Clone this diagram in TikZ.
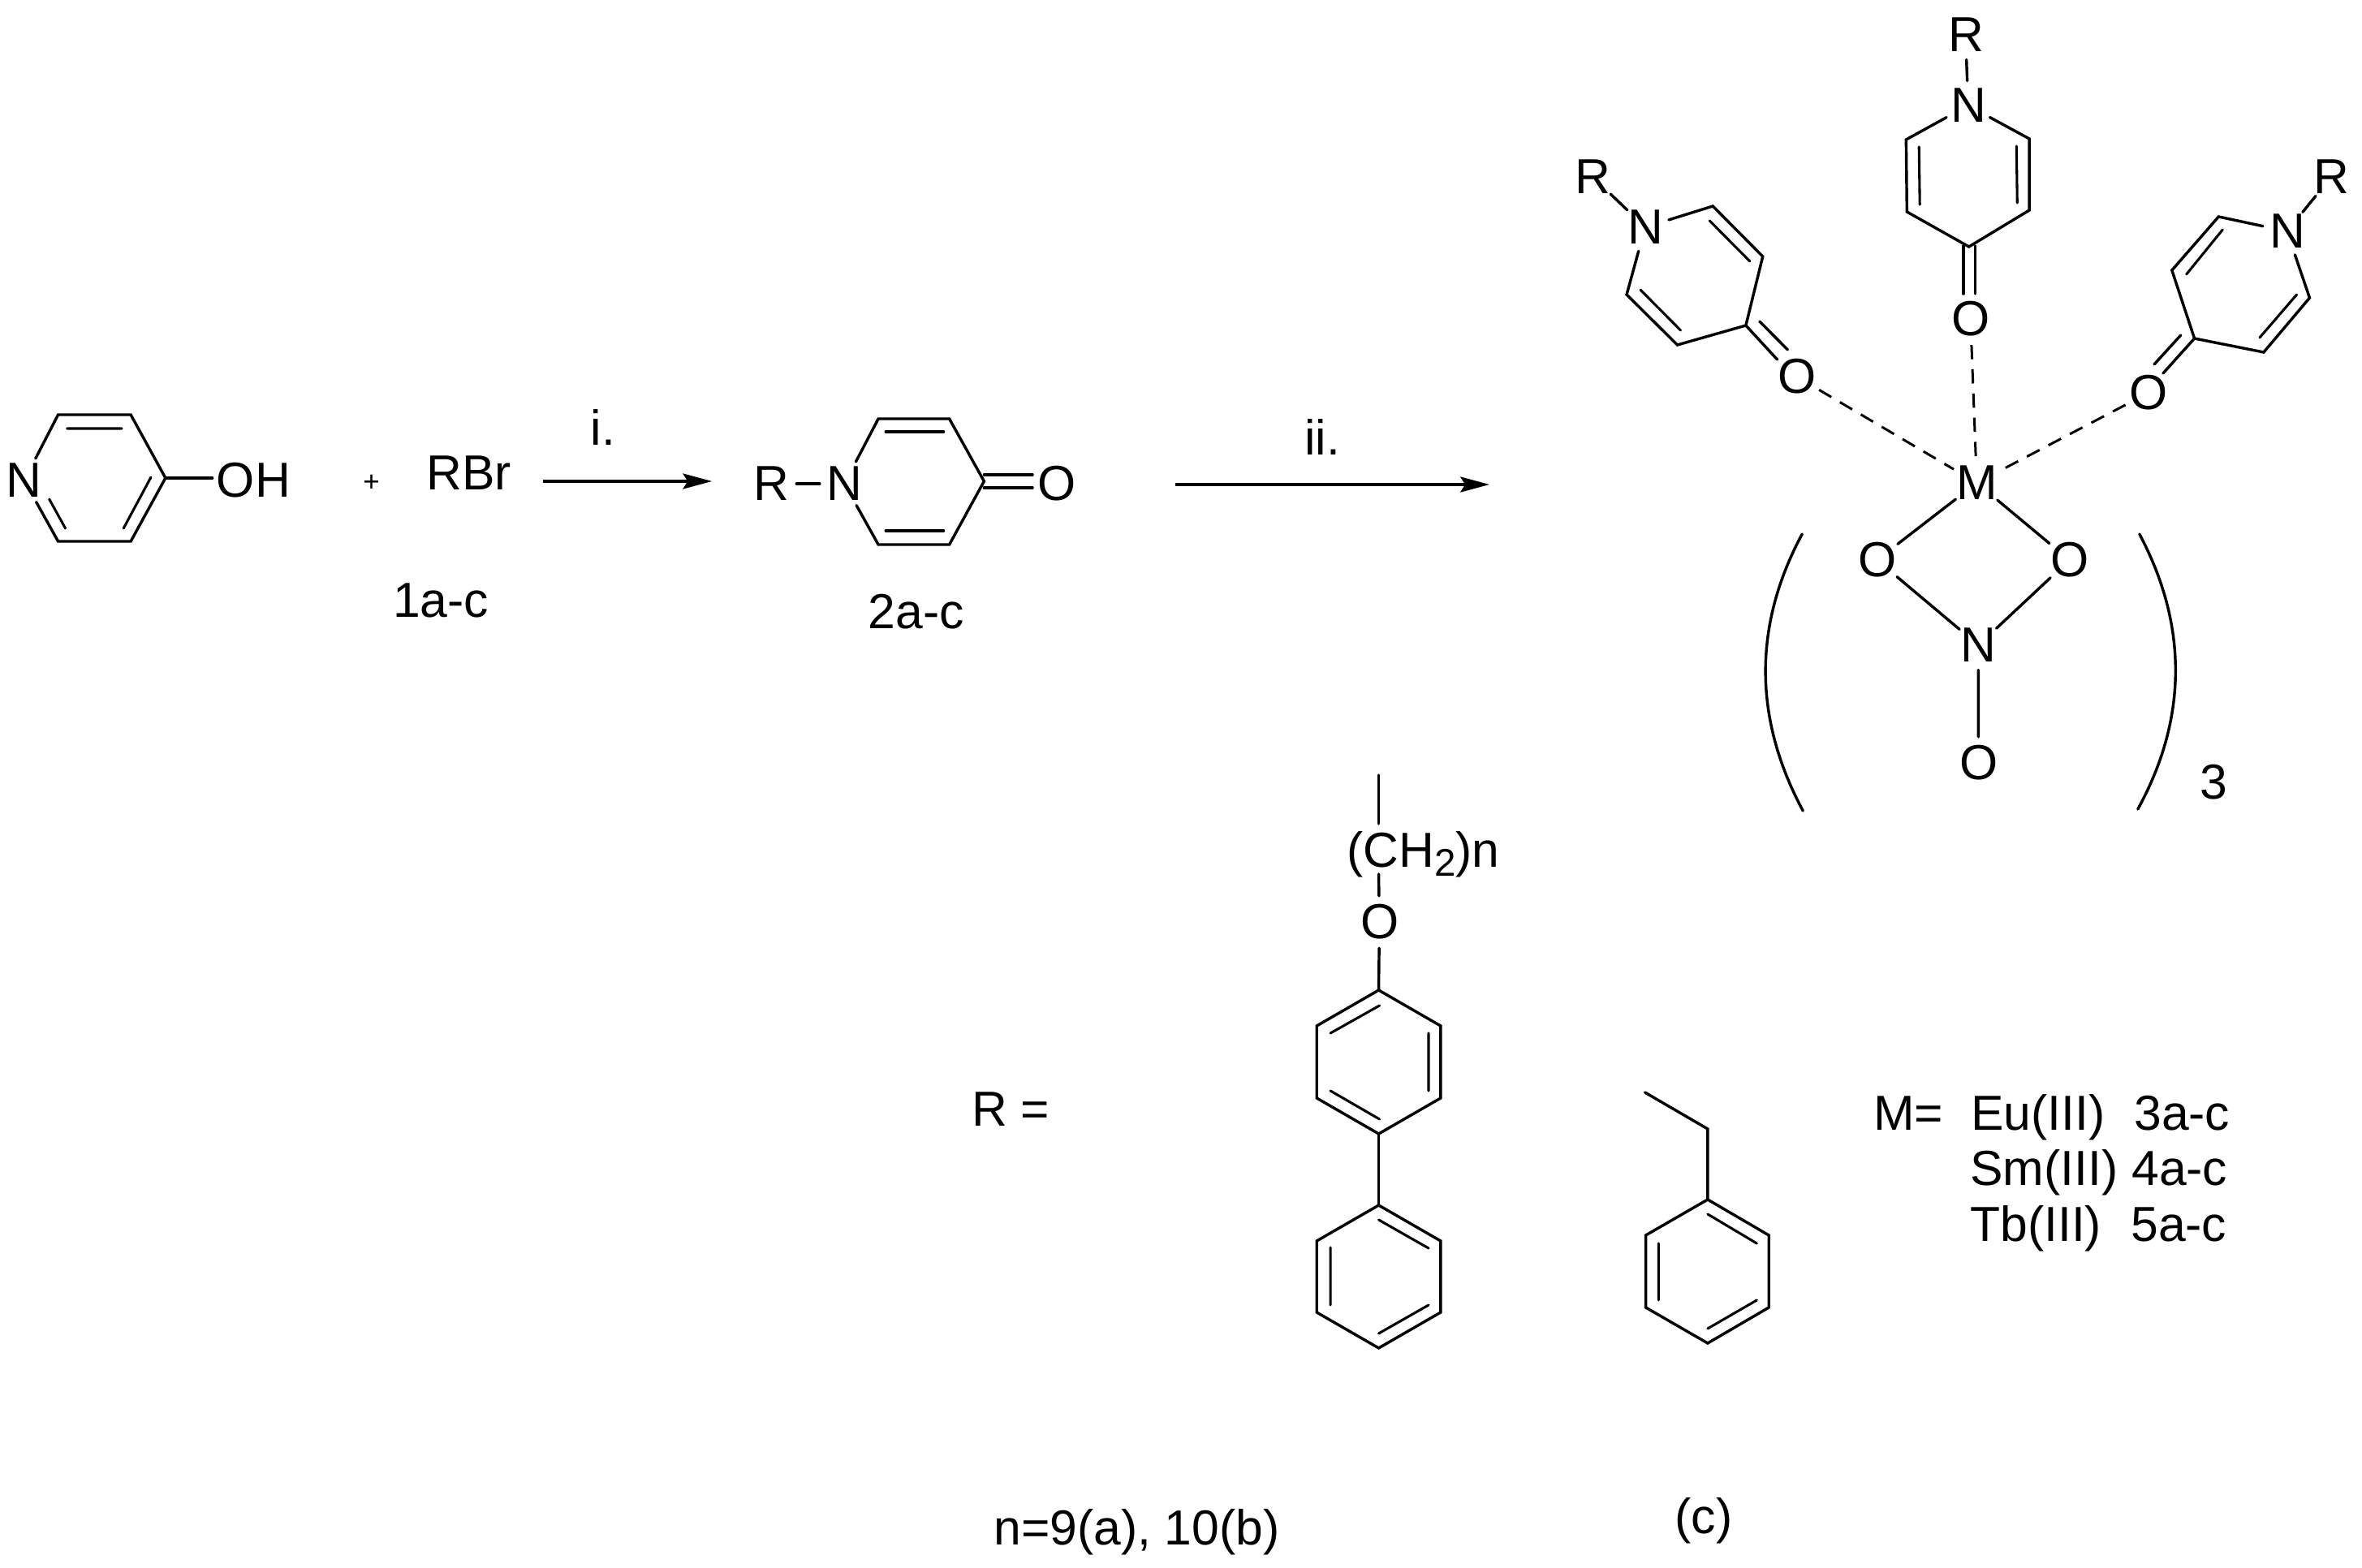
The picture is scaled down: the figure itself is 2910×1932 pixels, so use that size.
\documentclass[tikz,border=0pt]{standalone}
\usepackage{fontspec}
\setmainfont{Liberation Sans}
\usetikzlibrary{arrows.meta}
\tikzset{
  atom/.style={circle,inner sep=0pt,font=\fontsize{34.5}{40}\selectfont},
  lbl/.style={inner sep=0pt,font=\fontsize{34.5}{40}\selectfont},
  bond/.style={line width=1.95pt,line join=miter,line cap=round},
  thin bond/.style={line width=1.75pt,line cap=round},
  dashbond/.style={line width=1.7pt,dash pattern=on 10pt off 7pt},
  rxn/.style={line width=1.95pt,-{Stealth[length=20.4pt,width=10.8pt,inset=3.4pt]}},
  paren/.style={line width=1.95pt,line cap=round}
}
\newcommand{\pts}[1]{\foreach \n/\x/\y in {#1}{\coordinate (\n) at (\x,\y);}}
\begin{document}
\begin{tikzpicture}[x=0.02cm,y=-0.02cm]
\useasboundingbox (0,0) rectangle (2910,1932);

\begin{scope}[xscale=0.9946]
% ---------- 4-hydroxypyridine
\node[atom] (N1) at (30,592) {N};
\node[lbl] (OH) at (314,592) {OH};
\pts{a1/72/511, a2/162/511, a3/205/589, a4/162/667, a5/72/667, a6/263/589,
     i1/83/528, i2/151/528, i3/187/588, i4/153/651, i5/61/615, i6/81/651}
\draw[bond] (N1) -- (a1) -- (a2) -- (a3) -- (a4) -- (a5) -- (N1);
\draw[bond] (a3) -- (a6);
\draw[thin bond] (i1) -- (i2) (i3) -- (i4) (i5) -- (i6);

\node[font=\fontsize{20}{24}\selectfont,inner sep=0pt] (plus) at (460,595) {+};
\node[lbl,anchor=base west] (rbr) at (528,603) {RBr};
\node[lbl,anchor=base] (l1) at (546,760) {1a-c};
\pts{ar1s/673/593, ar1e/882/593}
\draw[rxn] (ar1s) -- (ar1e);
\node[lbl,anchor=base] (lab1) at (747,549) {i.};

% ---------- pyridone 2
\node[atom] (R2) at (956,596) {R};
\node[atom] (N2) at (1046,596) {N};
\node[atom] (O2) at (1309,596) {O};
\pts{b1/1088/516, b2/1176/516, b3/1219/593, b4/1176/671, b5/1088/671,
     b6/1219/585, b7/1279/585, b8/1219/601, b9/1279/601,
     j1/1097/532, j2/1169/532, j3/1097/654, j4/1169/654}
\draw[bond] (R2) -- (N2);
\draw[bond] (N2) -- (b1) -- (b2) -- (b3) -- (b4) -- (b5) -- (N2);
\draw[bond] (b6) -- (b7) (b8) -- (b9);
\draw[thin bond] (j1) -- (j2) (j3) -- (j4);
\node[lbl,anchor=base] (l2) at (1135,774) {2a-c};
\end{scope}

\pts{ar2s/1448/597, ar2e/1835/597}
\draw[rxn] (ar2s) -- (ar2e);
\node[lbl,anchor=base] (lab2) at (1629,561) {ii.};

% ---------- nitrate and metal
\begin{scope}[shift={(17.85,0)},xscale=0.9917]
\node[atom] (M) at (2438,595) {M};
\node[atom] (Oa) at (2314,690) {O};
\node[atom] (Ob) at (2553,690) {O};
\node[atom] (Nn) at (2440,795) {N};
\node[atom] (Od) at (2440,940) {O};
\draw[bond] (M) -- (Oa) (M) -- (Ob) (Oa) -- (Nn) (Ob) -- (Nn) (Nn) -- (Od);
\pts{p1/2221/658, p2/2222/999, p3/2640/658, p4/2638/997}
\draw[paren] (p1) .. controls (2160,770) and (2160,885) .. (p2);
\draw[paren] (p3) .. controls (2700,770) and (2700,885) .. (p4);
\node[lbl] (three) at (2732,964) {3};
\end{scope}

\begin{scope}[shift={(14.63,0)},xscale=0.9923]
% centre ring
\node[atom] (Rc) at (2426,43) {R};
\node[atom] (Nc) at (2429,130) {N};
\node[atom] (Oc) at (2432,393) {O};
\pts{c1/2352/172, c2/2353/261, c3/2430/304, c4/2505/259, c5/2505/171,
     c6/2423/303, c7/2423/362, c8/2438/303, c9/2438/362,
     k1/2368/181, k2/2369/252, k3/2489/180, k4/2490/250}
\draw[bond] (Rc) -- (Nc);
\draw[bond] (Nc) -- (c1) -- (c2) -- (c3) -- (c4) -- (c5) -- (Nc);
\draw[bond] (c6) -- (c7) (c8) -- (c9);
\draw[thin bond] (k1) -- (k2) (k3) -- (k4);
\draw[dashbond] (Oc) -- (M);

% left ring
\node[atom] (Rl) at (1963,218) {R};
\node[atom] (Nl) at (2028,280) {N};
\node[atom] (Ol) at (2216,464) {O};
\pts{d1/2112/254, d2/2174/316, d3/2153/401, d4/2068/425, d5/2005/363,
     d6/2153/401, d7/2192/443, d8/2170/396, d9/2205/431,
     m1/2108/272, m2/2158/322, m3/2022/357, m4/2072/407}
\draw[bond] (Rl) -- (Nl);
\draw[bond] (Nl) -- (d1) -- (d2) -- (d3) -- (d4) -- (d5) -- (Nl);
\draw[bond] (d6) -- (d7) (d8) -- (d9);
\draw[thin bond] (m1) -- (m2) (m3) -- (m4);
\draw[dashbond] (Ol) -- (M);

% right ring
\node[atom] (Rr) at (2880,218) {R};
\node[atom] (Nr) at (2825,285) {N};
\node[atom] (Or) at (2653,484) {O};
\pts{e1/2740/267, e2/2682/333, e3/2710/417, e4/2796/434, e5/2853/367,
     e6/2710/417, e7/2671/460, e8/2693/413, e9/2660/449,
     n1/2745/283, n2/2700/338, n3/2837/363, n4/2791/416}
\draw[bond] (Rr) -- (Nr);
\draw[bond] (Nr) -- (e1) -- (e2) -- (e3) -- (e4) -- (e5) -- (Nr);
\draw[bond] (e6) -- (e7) (e8) -- (e9);
\draw[thin bond] (n1) -- (n2) (n3) -- (n4);
\draw[dashbond] (Or) -- (M);
\end{scope}

% ---------- R groups
\begin{scope}[shift={(13.8,0)},xscale=0.9911]
\node[lbl,anchor=base west] (ch) at (1660,1068) {(CH\raisebox{-6.8pt}{\fontsize{27}{30}\selectfont 2})n};
\node[atom] (Oe) at (1701,1136) {O};
\pts{f0/1700/955, f1/1700/1015, f2/1700/1077, f3/1700/1220,
     g1/1777/1264, g2/1777/1353, g3/1700/1397, g4/1623/1353, g5/1623/1264,
     g6/1701/1239, g7/1640/1273, g8/1762/1273, g9/1762/1344, g10/1640/1344, g11/1701/1379,
     h0/1700/1485, h1/1777/1529, h2/1777/1617, h3/1700/1661, h4/1623/1617, h5/1623/1529,
     h6/1700/1503, h7/1762/1538, h8/1640/1537, h9/1640/1608, h10/1700/1643, h11/1762/1608}
\draw[bond] (f0) -- (f1);
\draw[bond] (f2) -- (Oe);
\draw[bond] (Oe) -- (f3);
\draw[bond] (f3) -- (g1) -- (g2) -- (g3) -- (g4) -- (g5) -- cycle;
\draw[thin bond] (g6) -- (g7) (g8) -- (g9) (g10) -- (g11);
\draw[bond] (g3) -- (h0);
\draw[bond] (h0) -- (h1) -- (h2) -- (h3) -- (h4) -- (h5) -- cycle;
\draw[thin bond] (h6) -- (h7) (h8) -- (h9) (h10) -- (h11);

\pts{q0/2031/1346, q1/2109/1391, q2/2109/1478, q3/2185/1522, q4/2185/1611, q5/2109/1655, q6/2032/1611, q7/2032/1522,
     r1/2109/1496, r2/2170/1532, r3/2048/1532, r4/2048/1602, r5/2109/1637, r6/2170/1602}
\draw[bond] (q0) -- (q1) -- (q2);
\draw[bond] (q2) -- (q3) -- (q4) -- (q5) -- (q6) -- (q7) -- cycle;
\draw[thin bond] (r1) -- (r2) (r3) -- (r4) (r5) -- (r6);
\end{scope}

% ---------- labels
\node[lbl,anchor=base west] (req) at (1197,1387) {R =};
\node[lbl,anchor=base west] (meq) at (2308,1392) {M=};
\node[lbl,anchor=base west] (eu) at (2428,1392) {Eu(III)};
\node[lbl,anchor=base west] (e3) at (2629,1392) {3a-c};
\node[lbl,anchor=base west] (sm) at (2427,1460) {Sm(III)};
\node[lbl,anchor=base west] (s4) at (2626,1460) {4a-c};
\node[lbl,anchor=base west] (tb) at (2427,1529) {Tb(III)};
\node[lbl,anchor=base west] (t5) at (2625,1529) {5a-c};
\node[lbl,anchor=base west] (nn) at (1224,1903) {n=9(a), 10(b)};
\node[lbl,anchor=base] (cc) at (2099,1889) {(c)};
\end{tikzpicture}
\end{document}
